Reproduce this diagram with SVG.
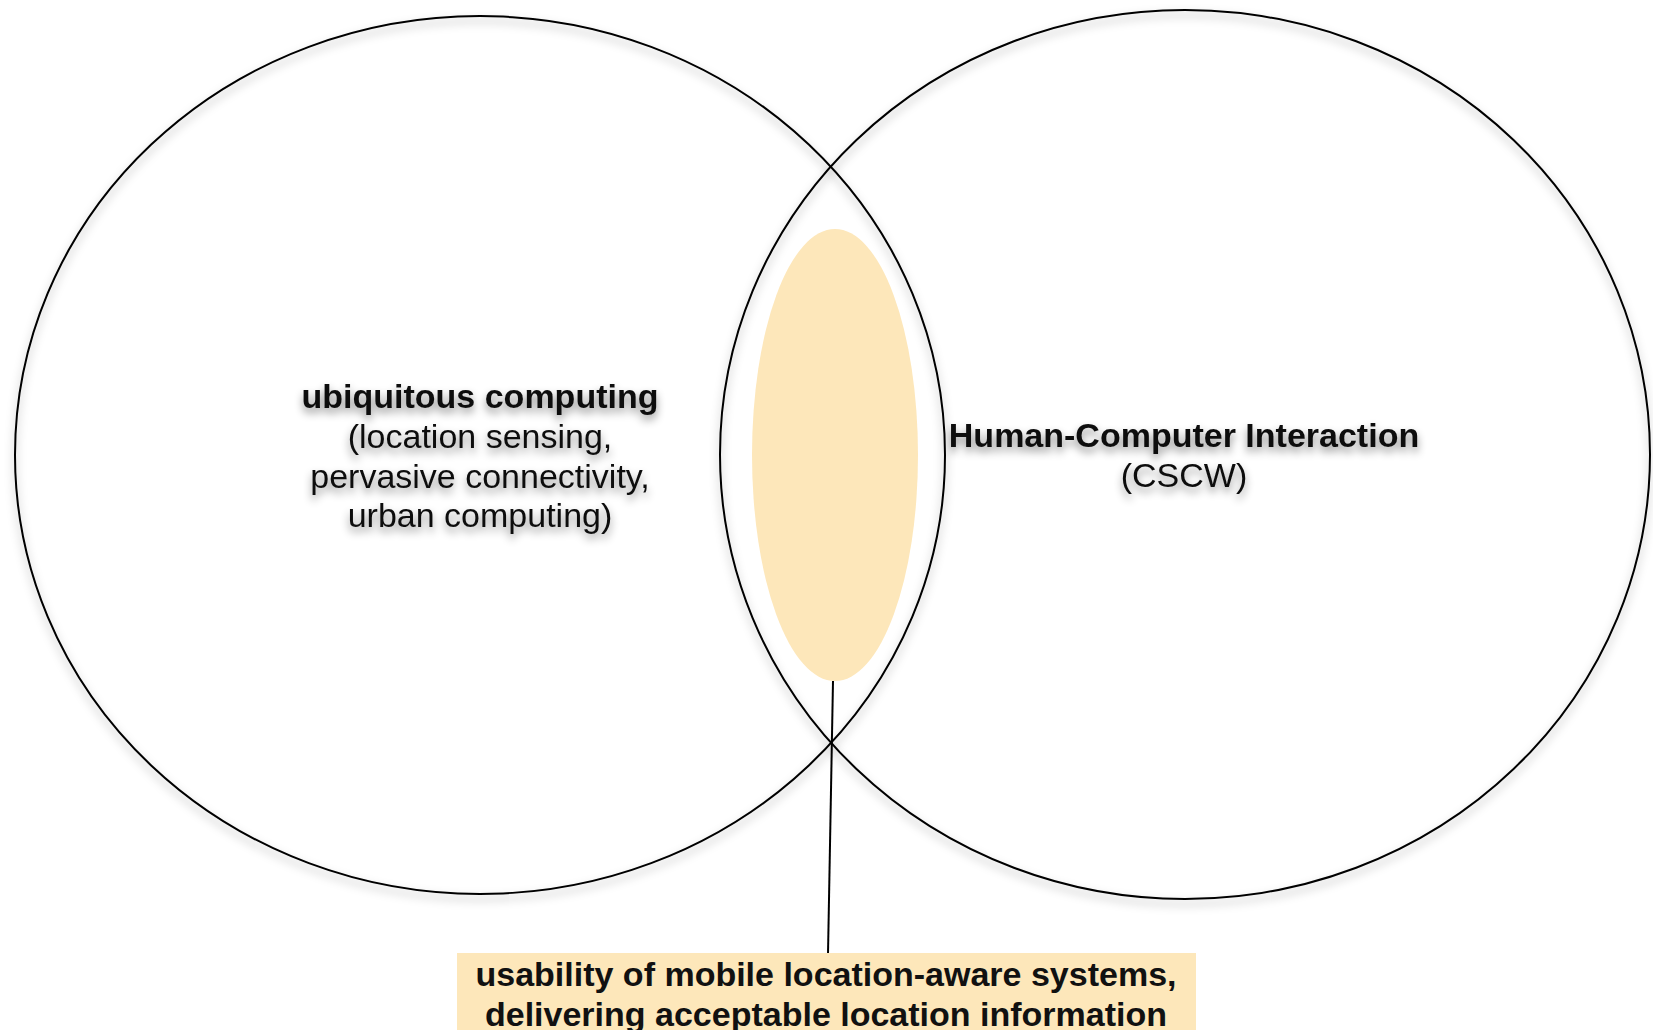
<svg xmlns="http://www.w3.org/2000/svg" width="1653" height="1030" viewBox="0 0 1653 1030">
  <defs>
    <filter id="shStroke" x="-10%" y="-10%" width="120%" height="120%">
      <feDropShadow dx="0" dy="5" stdDeviation="5" flood-color="#000" flood-opacity="0.35"/>
    </filter>
    <filter id="shText" x="-10%" y="-30%" width="120%" height="180%">
      <feDropShadow dx="0" dy="5" stdDeviation="4" flood-color="#000" flood-opacity="0.45"/>
    </filter>
  </defs>
  <style>
    .ring { fill: none; stroke: #000; stroke-width: 2; }
    .lbl { font-family: "Liberation Sans", Arial, Helvetica, sans-serif; font-size: 34px; fill: #111; text-anchor: middle; }
    .b { font-weight: bold; }
    .hl { fill: #FDE7BA; }
  </style>
  <rect width="1653" height="1030" fill="#fff"/>

  <g id="overlap">
    <ellipse class="hl" cx="835" cy="455" rx="83" ry="226"/>
  </g>

  <g id="ubicomp">
    <ellipse class="ring" cx="480" cy="455" rx="465" ry="439" filter="url(#shStroke)"/>
    <g filter="url(#shText)">
      <text class="lbl b" x="480" y="408">ubiquitous computing</text>
      <text class="lbl" x="480" y="448">(location sensing,</text>
      <text class="lbl" x="480" y="488">pervasive connectivity,</text>
      <text class="lbl" x="480" y="527">urban computing)</text>
    </g>
  </g>

  <g id="hci">
    <ellipse class="ring" cx="1185" cy="454.5" rx="465" ry="444.5" filter="url(#shStroke)"/>
    <g filter="url(#shText)">
      <text class="lbl b" x="1184" y="447">Human-Computer Interaction</text>
      <text class="lbl" x="1184" y="487">(CSCW)</text>
    </g>
  </g>

  <g id="connectors">
    <line x1="833" y1="681" x2="828" y2="954" stroke="#000" stroke-width="2"/>
  </g>

  <g id="usability">
    <rect class="hl" x="457" y="953" width="739" height="80"/>
    <text class="lbl b" x="826" y="986">usability of mobile location-aware systems,</text>
    <text class="lbl b" x="826" y="1026">delivering acceptable location information</text>
  </g>
</svg>
